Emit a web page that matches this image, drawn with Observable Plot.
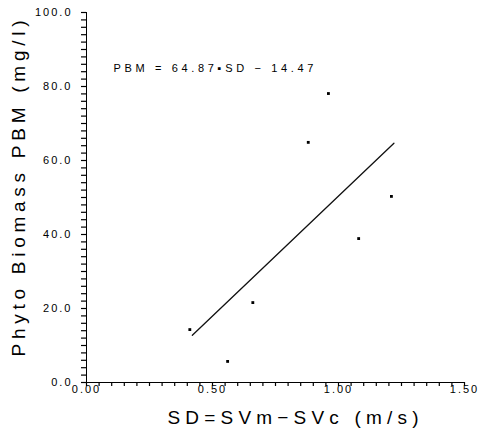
<!DOCTYPE html>
<html><head><meta charset="utf-8">
<script src="https://cdn.jsdelivr.net/npm/d3@7"></script>
<script src="https://cdn.jsdelivr.net/npm/@observablehq/plot@0.6"></script>
<style>body{margin:0;background:#fff}</style>
</head><body><div id="chart"></div>
<script>
// Observed data
const sd  = [0.41, 0.56, 0.66, 0.88, 0.96, 1.08, 1.21];
const pbm = [14.3, 5.7, 21.6, 64.9, 78.1, 38.9, 50.3];
// Regression line (from annotation) and its drawn extent
const slope = 64.87, intercept = -14.47;
const fitRange = [0.42, 1.22];
const yTicks = [0, 20, 40, 60, 80, 100];
const yMinorTicks = d3.range(0, 101, 2);
const xTicks = [0, 0.5, 1.0, 1.5];
const xMinorTicks = d3.range(0, 31).map(i => i * 0.05);
const equationText = "PBM = 64.87\u25aaSD \u2212 14.47";
const xTitle = "SD=SVm\u2212SVc (m/s)";
const yTitle = "Phyto Biomass PBM (mg/l)";

const points = sd.map((x, i) => ({x, y: pbm[i]}));
const fit = fitRange.map(x => ({x, y: slope * x + intercept}));

const font = "'Liberation Sans', Arial, sans-serif";

const chart = Plot.plot({
  width: 478, height: 430,
  marginLeft: 86, marginRight: 14, marginTop: 12, marginBottom: 48,
  style: {fontFamily: font},
  x: {domain: [0, 1.5]},
  y: {domain: [0, 100]},
  marks: [
    // tick marks (outside the frame, like the original)
    Plot.axisY({ticks: yMinorTicks, tickSize: 5, text: null, label: null, stroke: "#000", strokeWidth: 1.2}),
    Plot.axisX({ticks: xMinorTicks, tickSize: 4, text: null, label: null, stroke: "#000", strokeWidth: 1.2}),
    Plot.axisY({ticks: yTicks, tickSize: 0, tickPadding: 14, tickFormat: d => d.toFixed(1), fontSize: 11, label: null}),
    Plot.axisX({ticks: xTicks, tickSize: 0, tickPadding: 3, tickFormat: d => d.toFixed(2), fontSize: 11, label: null}),
    Plot.ruleX([0], {stroke: "#000"}),
    Plot.ruleY([0], {stroke: "#000"}),
    Plot.line(fit, {x: "x", y: "y", stroke: "#111", strokeWidth: 1.3}),
    Plot.dot(points, {x: "x", y: "y", symbol: "square", r: 1.6, fill: "#000"}),
    Plot.text([equationText], {x: 0.107, y: 85, textAnchor: "start", fontSize: 11}),
    Plot.text([xTitle], {frameAnchor: "bottom-left", dx: 81, dy: 35, textAnchor: "start", lineAnchor: "middle", fontSize: 19}),
    Plot.text([yTitle], {frameAnchor: "bottom-left", dx: -68, dy: -26, rotate: -90, textAnchor: "start", lineAnchor: "middle", fontSize: 19})
  ]
});
document.getElementById("chart").appendChild(chart);
// spread letters like the original plotter lettering
const texts = Array.from(chart.querySelectorAll("text"));
const spread = (str, len) => texts.filter(t => t.textContent === str).forEach(t => {
  const n = t.textContent.length;
  const natural = t.getComputedTextLength();
  t.style.letterSpacing = ((len - natural) / (n - 1)) + "px";
});
spread(equationText, 200); spread(xTitle, 251); spread(yTitle, 336);
chart.querySelectorAll('g[aria-label="y-axis tick label"] text, g[aria-label="x-axis tick label"] text')
  .forEach(t => t.style.letterSpacing = "2px");
</script>
</body></html>
